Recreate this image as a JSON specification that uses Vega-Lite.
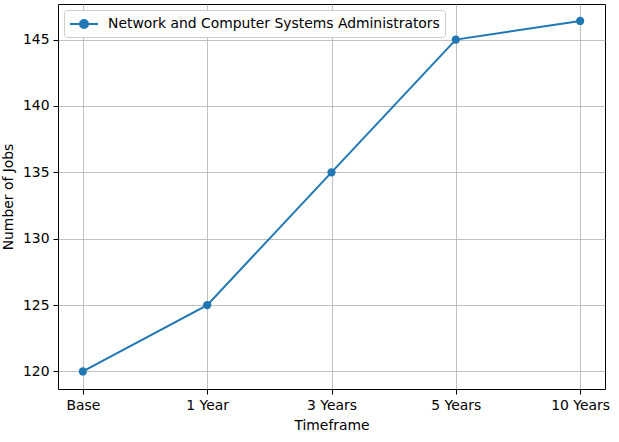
{
  "$schema": "https://vega.github.io/schema/vega-lite/v6.json",
  "width": 547,
  "height": 385,
  "autosize": {"type": "none"},
  "padding": {"left": 58, "top": 4, "right": 14, "bottom": 53},
  "background": "white",
  "config": {
    "font": "DejaVu Sans",
    "view": {"stroke": "black", "strokeWidth": 1},
    "axis": {
      "labelFont": "DejaVu Sans",
      "titleFont": "DejaVu Sans",
      "labelFontSize": 13.9,
      "titleFontSize": 13.9,
      "titleFontWeight": "normal",
      "labelColor": "black",
      "titleColor": "black",
      "domainColor": "black",
      "tickColor": "black",
      "tickSize": 5,
      "labelPadding": 4,
      "gridColor": "#b0b0b0",
      "gridWidth": 0.8,
      "gridOpacity": 1
    },
    "legend": {
      "labelFont": "DejaVu Sans",
      "labelFontSize": 13.9,
      "labelColor": "black",
      "labelLimit": 0
    }
  },
  "data": {
    "values": [
      {"Timeframe": "Base", "Jobs": 120, "Series": "Network and Computer Systems Administrators"},
      {"Timeframe": "1 Year", "Jobs": 125, "Series": "Network and Computer Systems Administrators"},
      {"Timeframe": "3 Years", "Jobs": 135, "Series": "Network and Computer Systems Administrators"},
      {"Timeframe": "5 Years", "Jobs": 145, "Series": "Network and Computer Systems Administrators"},
      {"Timeframe": "10 Years", "Jobs": 146.4, "Series": "Network and Computer Systems Administrators"}
    ]
  },
  "mark": {"type": "line", "strokeWidth": 2, "point": {"filled": true, "size": 68, "opacity": 1}},
  "encoding": {
    "x": {
      "field": "Timeframe",
      "type": "ordinal",
      "sort": ["Base", "1 Year", "3 Years", "5 Years", "10 Years"],
      "scale": {"type": "point", "padding": 0.2},
      "axis": {"labelAngle": 0, "title": "Timeframe", "titlePadding": 7, "grid": true, "domain": false}
    },
    "y": {
      "field": "Jobs",
      "type": "quantitative",
      "scale": {"domain": [118.68, 147.68], "nice": false, "zero": false},
      "axis": {"values": [120, 125, 130, 135, 140, 145], "title": "Number of Jobs", "titlePadding": 7, "grid": true, "domain": false}
    },
    "color": {
      "field": "Series",
      "type": "nominal",
      "scale": {"range": ["#1f77b4"]},
      "legend": {
        "title": null,
        "orient": "top-left",
        "offset": 6,
        "padding": 5,
        "fillColor": "white",
        "strokeColor": "#cccccc",
        "cornerRadius": 3,
        "symbolType": "M-1,0H2.5M1.25,0A0.5,0.5 0 1,1 0.25,0A0.5,0.5 0 1,1 1.25,0Z",
        "symbolSize": 256,
        "symbolStrokeWidth": 2,
        "symbolFillColor": "#1f77b4",
        "symbolStrokeColor": "#1f77b4",
        "symbolOpacity": 1,
        "labelOffset": 21
      }
    }
  }
}
